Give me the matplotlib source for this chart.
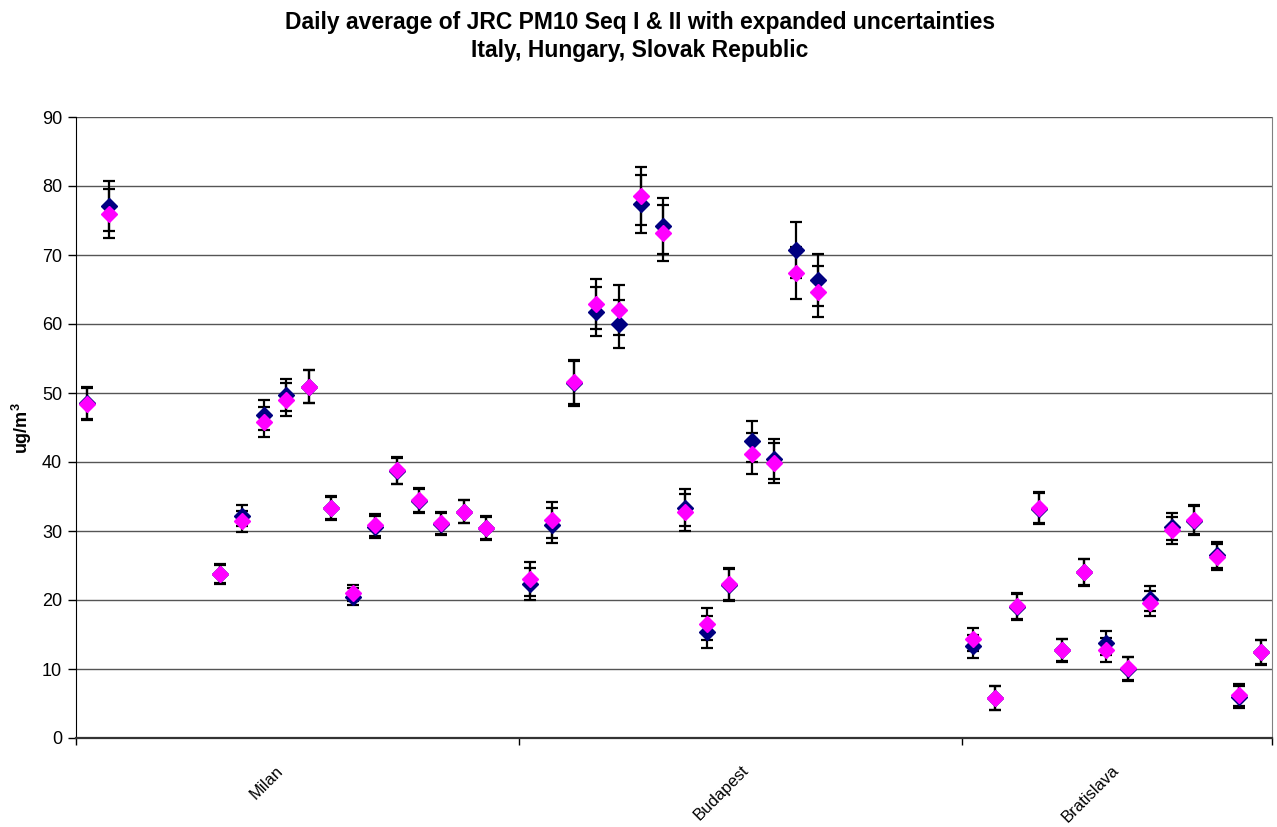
import numpy as np
import matplotlib
matplotlib.use("Agg")
import matplotlib.pyplot as plt
import matplotlib.transforms as mtransforms

plt.rcParams['font.family'] = ['Liberation Sans', 'DejaVu Sans']
plt.rcParams['mathtext.fontset'] = 'custom'
plt.rcParams['mathtext.rm'] = 'Liberation Sans'
plt.rcParams['mathtext.bf'] = 'Liberation Sans:bold'

# ---- category index of each sample day (54 categories, some empty)
days = [0, 1, 6, 7, 8, 9, 10, 11, 12, 13, 14, 15, 16, 17, 18,
        20, 21, 22, 23, 24, 25, 26, 27, 28, 29, 30, 31, 32, 33,
        40, 41, 42, 43, 44, 45, 46, 47, 48, 49, 50, 51, 52, 53]

# ---- Seq I (navy) daily averages and expanded uncertainties
seq1 = [48.5, 77.1, 23.7, 32.2, 46.8, 49.7, 50.9, 33.3, 20.5, 30.6, 38.7, 34.4, 31.0, 32.8, 30.4,
        22.3, 30.8, 51.4, 61.8, 60.0, 77.4, 74.2, 33.4, 15.4, 22.2, 43.0, 40.4, 70.7, 66.4,
        13.3, 5.8, 19.0, 33.2, 12.7, 24.0, 13.8, 10.0, 20.2, 30.6, 31.5, 26.5, 5.9, 12.4]
err1 = [2.3, 3.6, 1.35, 1.5, 2.2, 2.3, 2.4, 1.7, 1.2, 1.6, 1.95, 1.75, 1.6, 1.7, 1.65,
        2.35, 2.6, 3.25, 3.6, 3.5, 4.2, 4.05, 2.65, 2.3, 2.35, 2.95, 2.9, 4.05, 3.75,
        1.7, 1.7, 1.9, 2.25, 1.65, 1.9, 1.75, 1.7, 1.8, 1.95, 2.1, 1.9, 1.6, 1.75]

# ---- Seq II (magenta)
seq2 = [48.4, 76.0, 23.8, 31.4, 45.8, 49.0, 50.9, 33.4, 21.0, 30.9, 38.8, 34.5, 31.1, 32.8, 30.5,
        23.1, 31.6, 51.6, 62.9, 62.0, 78.5, 73.2, 32.7, 16.5, 22.3, 41.2, 39.9, 67.4, 64.7,
        14.3, 5.8, 19.1, 33.4, 12.75, 24.1, 12.75, 10.1, 19.5, 30.1, 31.6, 26.2, 6.2, 12.5]
err2 = [2.3, 3.6, 1.35, 1.5, 2.2, 2.4, 2.4, 1.7, 1.2, 1.6, 1.95, 1.75, 1.6, 1.7, 1.65,
        2.45, 2.65, 3.25, 3.6, 3.6, 4.2, 4.0, 2.65, 2.3, 2.35, 2.95, 2.9, 3.8, 3.65,
        1.65, 1.7, 1.9, 2.25, 1.65, 1.9, 1.8, 1.7, 1.8, 2.0, 2.1, 1.9, 1.6, 1.75]

sites = ['Milan', 'Budapest', 'Bratislava']
site_pos = [9, 30, 46.7]
group_edges = [-0.5, 19.5, 39.5, 53.5]
n_cat = 54

fig = plt.figure(figsize=(12.77, 8.27), dpi=100)
ax = fig.add_axes([76 / 1277, 89 / 827, 1196 / 1277, 621 / 827])

# ---- error bars first, markers on top
for vals, errs in [(seq1, err1), (seq2, err2)]:
    ax.errorbar(days, vals, yerr=errs, fmt='none', ecolor='black',
                elinewidth=1.6, capsize=4.5, capthick=1.6, zorder=2)
for vals, col, z in [(seq1, '#000080', 3), (seq2, '#FF00FF', 4)]:
    ax.plot(days, vals, linestyle='none', marker='D', markersize=8,
            color=col, markeredgecolor=col, zorder=z)

ax.set_xlim(-0.5, n_cat - 0.5)
ax.set_ylim(0, 90)
ax.set_yticks(np.arange(0, 91, 10))
ax.yaxis.grid(True, color='#555555', linewidth=1)
ax.set_axisbelow(True)
ax.tick_params(axis='y', direction='out', length=6, width=1, pad=4, labelsize=13)

ax.set_xticks(group_edges)
ax.set_xticklabels([])
ax.tick_params(axis='x', direction='out', length=5, width=1)

trans = mtransforms.blended_transform_factory(ax.transData, ax.transAxes)
for name, xp in zip(sites, site_pos):
    ax.text(xp, -0.04, name, transform=trans, rotation=45,
            ha='right', va='top', fontsize=12)

ax.spines['top'].set_visible(False)
ax.spines['right'].set_color('#808080')
ax.spines['left'].set_color('black')
ax.spines['bottom'].set_color('#333333')
ax.spines['bottom'].set_linewidth(1.6)

fig.text(22 / 1277, 1 - 428 / 827, 'ug/m$^{\\mathbf{3}}$', rotation=90,
         ha='center', va='center', fontsize=13, fontweight='bold')

fig.text(640 / 1277, 1 - 22 / 827, 'Daily average of JRC PM10 Seq I & II with expanded uncertainties',
         ha='center', va='center', fontsize=16.5, fontweight='bold')
fig.text(640 / 1277, 1 - 50 / 827, 'Italy, Hungary, Slovak Republic',
         ha='center', va='center', fontsize=16.5, fontweight='bold')

fig.savefig('out.png', dpi=100)
